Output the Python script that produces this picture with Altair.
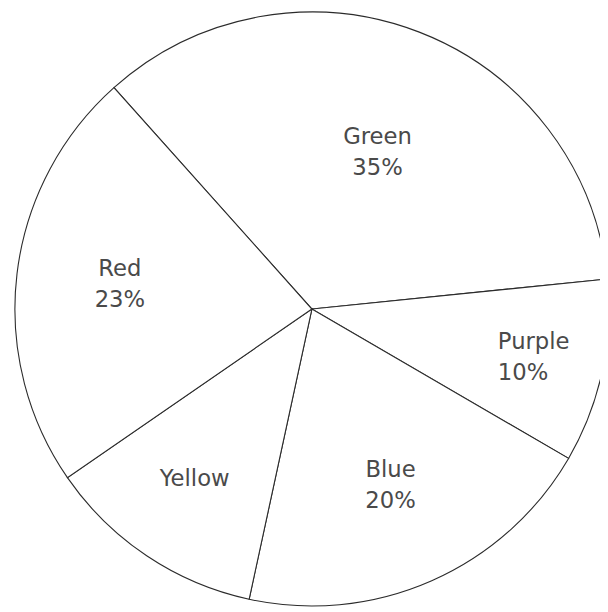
import math
import altair as alt
import pandas as pd

names = ["Green", "Purple", "Blue", "Yellow", "Red"]
values = [35, 10, 20, 12, 23]
shown_pct = ["35%", "10%", "20%", "", "23%"]

labels = [n + ("\n" + p if p else "") for n, p in zip(names, shown_pct)]
df = pd.DataFrame({"name": names, "value": values, "idx": list(range(len(names))), "label": labels})

start = math.radians(-41.8)
theta_scale = alt.Scale(domain=[0, 100], range=[start, start + 2 * math.pi])

CX, CY, R = 308, 301, 301
FONT = "DejaVu Sans"
TXT = "#4a4a4a"

base = (
    alt.Chart(df)
    .transform_window(cum="sum(value)", sort=[alt.SortField("idx")])
    .transform_calculate(start="datum.cum - datum.value", mid="datum.cum - datum.value / 2")
)

arcs = base.mark_arc(radius=R, fill="white", stroke="#2b2b2b", strokeWidth=1.1).encode(
    theta=alt.Theta("start:Q", scale=theta_scale, stack=False),
    theta2="cum:Q",
    x=alt.value(CX),
    y=alt.value(CY),
)

# label placement styles: (radius, align, dx, dy)
label_style = {
    "Green": (184, "center", 0, -3),
    "Purple": (200, "left", -7, -9),
    "Blue": (190, "center", 3, -11),
    "Yellow": (210, "center", -2, -2),
    "Red": (199, "center", 3, -17),
}

def label_layer(name):
    radius, align, dx, dy = label_style[name]
    return (
        base.transform_filter(alt.datum.name == name)
        .mark_text(radius=radius, align=align, baseline="middle", dx=dx, dy=dy,
                   font=FONT, fontSize=23, lineHeight=32, lineBreak="\n", color=TXT)
        .encode(
            theta=alt.Theta("mid:Q", scale=theta_scale, stack=False),
            text="label:N",
            x=alt.value(CX),
            y=alt.value(CY),
        )
    )

chart = (
    alt.layer(arcs, *[label_layer(n) for n in names])
    .properties(width=600, height=604, autosize=alt.AutoSizeParams(type="none"), padding=0, background="white")
    .configure_view(strokeWidth=0)
)

chart.save("out.html", embed_options={"renderer": "svg", "actions": False})
